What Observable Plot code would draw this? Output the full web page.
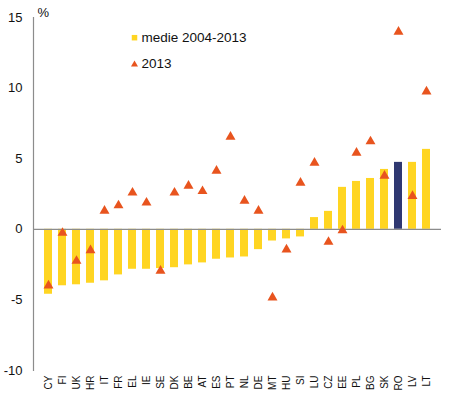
<!DOCTYPE html>
<html>
<head>
<meta charset="utf-8">
<script src="https://cdn.jsdelivr.net/npm/d3@7"></script>
<script src="https://cdn.jsdelivr.net/npm/@observablehq/plot@0.6"></script>
<style>
  html, body { margin: 0; padding: 0; background: #fff; }
  #chart svg { display: block; }
</style>
</head>
<body>
<div id="chart"></div>
<script>
const countries = ["CY","FI","UK","HR","IT","FR","EL","IE","SE","DK","BE","AT","ES","PT","NL","DE","MT","HU","SI","LU","CZ","EE","PL","BG","SK","RO","LV","LT"];
const avg2004_2013 = [-4.6,-4.0,-3.93,-3.82,-3.65,-3.23,-2.83,-2.83,-2.78,-2.72,-2.52,-2.38,-2.12,-2.03,-1.96,-1.44,-0.83,-0.68,-0.54,0.83,1.27,2.97,3.39,3.6,4.24,4.74,4.74,5.66];
const val2013 = [-3.89,-0.16,-2.14,-1.39,1.41,1.79,2.69,1.98,-2.84,2.69,3.18,2.8,4.24,6.65,2.12,1.41,-4.74,-1.34,3.39,4.81,-0.8,0.02,5.52,6.32,3.89,14.09,2.45,9.85];
const yTicks = [-10,-5,0,5,10,15];
const legendLabels = ["medie 2004-2013", "2013"];
const highlight = "RO";

const YELLOW = "#FFD522";
const NAVY = "#2F3871";
const ORANGE = "#E8541E";
const FONT = "Liberation Sans, Arial, sans-serif";

const rows = countries.map((c, i) => ({country: c, avg: avg2004_2013[i], v: val2013[i]}));

const chart = Plot.plot({
  width: 452,
  height: 398,
  marginLeft: 33,
  marginRight: 11,
  marginTop: 17,
  marginBottom: 28,
  style: {fontFamily: FONT, background: "#fff", color: "#111"},
  x: {domain: countries, paddingInner: 0.45, paddingOuter: 0.2, label: null},
  y: {domain: [-10, 15], label: null},
  marks: [
    Plot.barY(rows, {x: "country", y: "avg", fill: d => d.country === highlight ? NAVY : YELLOW}),
    Plot.ruleY([0], {stroke: "#8c8c8c", strokeWidth: 1.2}),
    Plot.frame({anchor: "left", stroke: "#8c8c8c", strokeWidth: 1.2}),
    Plot.dot(rows, {x: "country", y: "v", symbol: "triangle", r: 3.7, fill: ORANGE, stroke: "none", dy: 1.4}),
    Plot.axisY({ticks: yTicks, tickSize: 0, tickPadding: 11, fontSize: 13, tickFormat: d => String(d)}),
    Plot.axisX({tickSize: 0, tickPadding: 5, tickRotate: -90, fontSize: 10}),
    Plot.text(["%"], {frameAnchor: "top-left", dx: 4, dy: -5, fontSize: 13, textAnchor: "start", lineAnchor: "middle"}),
    Plot.dot([legendLabels[0]], {frameAnchor: "top-left", dx: 101, dy: 20.2, symbol: "square", r: 3.1, fill: YELLOW, stroke: "none"}),
    Plot.text([legendLabels[0]], {frameAnchor: "top-left", dx: 108, dy: 20, text: d => d, fontSize: 13.5, textAnchor: "start", lineAnchor: "middle"}),
    Plot.dot([legendLabels[1]], {frameAnchor: "top-left", dx: 101, dy: 47, symbol: "triangle", r: 2.6, fill: ORANGE, stroke: "none"}),
    Plot.text([legendLabels[1]], {frameAnchor: "top-left", dx: 108, dy: 46, text: d => d, fontSize: 13.5, textAnchor: "start", lineAnchor: "middle"})
  ]
});
document.getElementById("chart").appendChild(chart);
</script>
</body>
</html>
